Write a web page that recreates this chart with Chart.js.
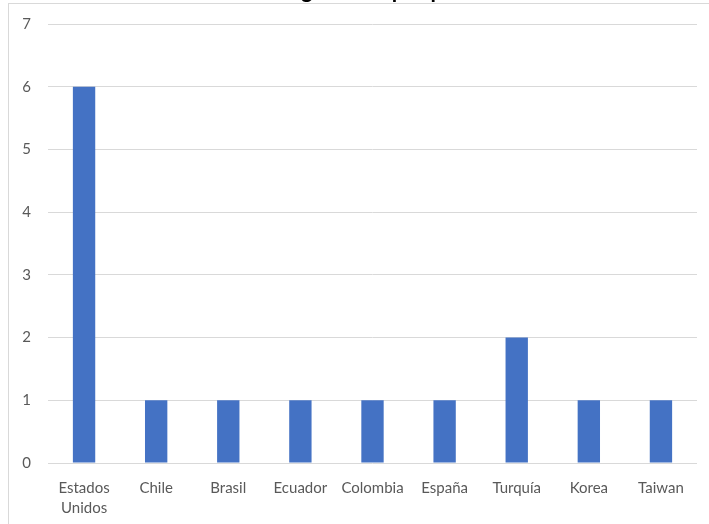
<!DOCTYPE html>
<html>
<head>
<meta charset="utf-8">
<script src="https://cdn.jsdelivr.net/npm/chart.js@4.4.1/dist/chart.umd.min.js"></script>
<style>
  html, body { margin: 0; padding: 0; background: #fff; overflow: hidden; }
  #frame { position: absolute; left: 8px; top: 3px; width: 720px; height: 540px;
           border-left: 1px solid #d9d9d9; border-top: 1px solid #d9d9d9; }
  #wrap { position: absolute; left: 0; top: -40px; width: 709px; height: 564px; }
</style>
</head>
<body>
<div id="frame"></div>
<div id="wrap"><canvas id="grafica"></canvas></div>
<script>
const titulo = 'Investigaciones por país';
const paises = [['Estados', 'Unidos'], 'Chile', 'Brasil', 'Ecuador', 'Colombia', 'España', 'Turquía', 'Korea', 'Taiwan'];
const cantidad = [6, 1, 1, 1, 1, 1, 2, 1, 1];
const ticksY = [0, 1, 2, 3, 4, 5, 6, 7];

const fuente = 'Lato, "Open Sans", sans-serif';

const ctx = document.getElementById('grafica').getContext('2d');
const grafica = new Chart(ctx, {
    type: 'bar',
    data: {
        labels: paises,
        datasets: [{
            label: 'Cantidad',
            data: cantidad,
            backgroundColor: '#4472C4',
            borderWidth: 0,
            barPercentage: 0.31,
            categoryPercentage: 1
        }]
    },
    options: {
        responsive: true,
        maintainAspectRatio: false,
        animation: false,
        layout: { padding: { left: 8, right: 12, top: 0, bottom: 0 } },
        plugins: {
            legend: { display: false },
            tooltip: { enabled: false },
            title: {
                display: true,
                text: titulo,
                color: '#000',
                font: { family: fuente, size: 22, weight: 'bold' },
                padding: { top: 18, bottom: 19.6 }
            }
        },
        scales: {
            x: {
                grid: { display: false },
                border: { display: false },
                ticks: {
                    color: '#595959',
                    font: { family: fuente, size: 15, lineHeight: 1.35 },
                    padding: 7,
                    maxRotation: 0,
                    autoSkip: false
                },
                afterFit: (s) => { s.height = 61; }
            },
            y: {
                min: 0,
                max: 7,
                afterBuildTicks: (s) => { s.ticks = ticksY.map(v => ({ value: v })); },
                grid: { color: '#d9d9d9', lineWidth: 1, drawTicks: false },
                border: { display: false },
                ticks: {
                    color: '#595959',
                    font: { family: fuente, size: 15 },
                    padding: 17
                },
                afterFit: (s) => { s.width = 40; }
            }
        }
    }
});
</script>
</body>
</html>
